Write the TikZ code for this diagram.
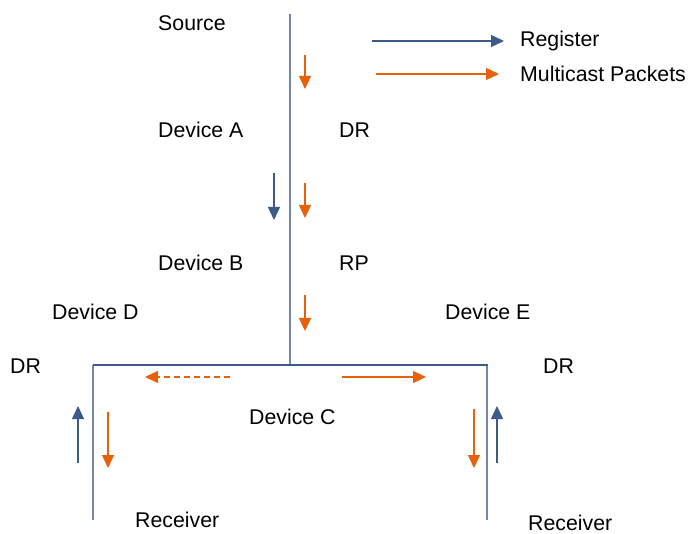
\documentclass[tikz,border=0pt]{standalone}
\usepackage{fontspec}
\setmainfont{Liberation Sans}
\usetikzlibrary{arrows.meta}
\definecolor{regblue}{HTML}{3E5A87}
\definecolor{lineblue}{HTML}{7088AE}
\definecolor{mcorange}{HTML}{E8600A}
\tikzset{
  lbl/.style={anchor=west, inner sep=0pt, font=\fontsize{21.3}{25}\selectfont},
  regarrow/.style={draw=regblue, line width=1.3pt, -{Triangle[width=12pt,length=13pt]}},
  mcarrow/.style={draw=mcorange, line width=1.3pt, -{Triangle[width=12pt,length=13pt]}},
  link/.style={draw=lineblue, line width=1.2pt},
  bus/.style={draw=regblue, line width=2.4pt},
}
\begin{document}
\begin{tikzpicture}[x=1pt,y=-1pt]
\useasboundingbox (0,0) rectangle (688,534);
% topology
\coordinate (top) at (290,14);
\coordinate (mid) at (290,365);
\coordinate (bl) at (93,365);
\coordinate (br) at (488,365);
\coordinate (lb) at (93,520);
\coordinate (rb) at (487,520);
\draw[link] (top) -- (mid);
\draw[link] (bl) -- (lb);
\draw[link] (br |- bl) ++(-1,0) -- (rb);
\draw[bus] (bl) -- (br);
% orange down arrows along source path
\coordinate (o1s) at (305,55); \coordinate (o1e) at (305,89);
\coordinate (o2s) at (305,183); \coordinate (o2e) at (305,218);
\coordinate (o3s) at (305,295); \coordinate (o3e) at (305,331);
\draw[mcarrow] (o1s) -- (o1e);
\draw[mcarrow] (o2s) -- (o2e);
\draw[mcarrow] (o3s) -- (o3e);
% register arrow
\coordinate (r1s) at (274,173); \coordinate (r1e) at (274,220);
\draw[regarrow] (r1s) -- (r1e);
% horizontal multicast
\coordinate (hls) at (230,377); \coordinate (hle) at (145,377);
\coordinate (hrs) at (342,377); \coordinate (hre) at (426,377);
\draw[mcarrow, dash pattern=on 6pt off 4pt] (hls) -- (hle);
\draw[mcarrow] (hrs) -- (hre);
% left receiver side
\coordinate (lus) at (78,463); \coordinate (lue) at (78,406);
\coordinate (lds) at (108,412); \coordinate (lde) at (108,468);
\draw[regarrow] (lus) -- (lue);
\draw[mcarrow] (lds) -- (lde);
% right receiver side
\coordinate (rds) at (474,409); \coordinate (rde) at (474,468);
\coordinate (rus) at (497,463); \coordinate (rue) at (497,406);
\draw[mcarrow] (rds) -- (rde);
\draw[regarrow] (rus) -- (rue);
% legend
\coordinate (lg1s) at (372,41); \coordinate (lg1e) at (504,41);
\coordinate (lg2s) at (376,74); \coordinate (lg2e) at (499,74);
\draw[regarrow] (lg1s) -- (lg1e);
\draw[mcarrow] (lg2s) -- (lg2e);
\node[lbl] (lgreg) at (520,41) {Register};
\node[lbl] (lgmc) at (520,74) {Multicast Packets};
% labels
\node[lbl] (src) at (158,23) {Source};
\node[lbl] (devA) at (158,130) {Device A};
\node[lbl] (drA) at (339,130) {DR};
\node[lbl] (devB) at (158,263) {Device B};
\node[lbl] (rp) at (339,263) {RP};
\node[lbl] (devD) at (52,312) {Device D};
\node[lbl] (devE) at (445,312) {Device E};
\node[lbl] (drD) at (10,366) {DR};
\node[lbl] (drE) at (543,366) {DR};
\node[lbl] (devC) at (249,417) {Device C};
\node[lbl] (rcvL) at (135,520) {Receiver};
\node[lbl] (rcvR) at (528,523) {Receiver};
\end{tikzpicture}
\end{document}
